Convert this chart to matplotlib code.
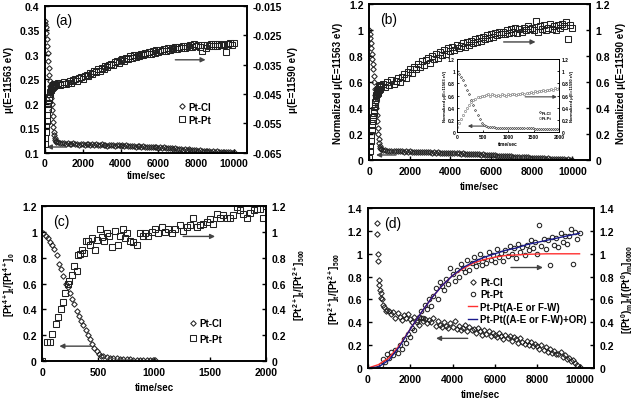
import numpy as np
import matplotlib.pyplot as plt
from matplotlib.ticker import FuncFormatter

plt.rcParams['font.family'] = ['Liberation Sans', 'DejaVu Sans']
plt.rcParams['font.weight'] = 'bold'
plt.rcParams['axes.labelweight'] = 'bold'
plt.rcParams['mathtext.fontset'] = 'custom'
plt.rcParams['mathtext.rm'] = 'Liberation Sans:bold'
plt.rcParams['mathtext.it'] = 'Liberation Sans:bold'
plt.rcParams['mathtext.bf'] = 'Liberation Sans:bold'
plt.rcParams['mathtext.default'] = 'rm'

# ---- (a) raw mu, Pt-Cl on left, Pt-Pt on right ----
t_early = np.arange(0, 600, 25)
t_late = np.arange(600, 10001, 100)

cl_a_early = [0.370, 0.364, 0.356, 0.345, 0.332, 0.318, 0.303, 0.288, 0.273, 0.259,
              0.247, 0.236, 0.224, 0.212, 0.200, 0.188, 0.176, 0.164, 0.152, 0.143,
              0.136, 0.131, 0.127, 0.125]
cl_a_late = [0.123, 0.122, 0.121, 0.120, 0.121, 0.119, 0.120, 0.118, 0.119, 0.120,
             0.118, 0.119, 0.117, 0.119, 0.118, 0.117, 0.119, 0.118, 0.116, 0.118,
             0.117, 0.118, 0.116, 0.117, 0.118, 0.116, 0.117, 0.115, 0.117, 0.116,
             0.117, 0.115, 0.116, 0.117, 0.115, 0.116, 0.114, 0.116, 0.115, 0.114,
             0.115, 0.114, 0.113, 0.115, 0.114, 0.113, 0.114, 0.112, 0.113, 0.112,
             0.113, 0.111, 0.112, 0.111, 0.110, 0.112, 0.110, 0.111, 0.109, 0.110,
             0.109, 0.110, 0.108, 0.109, 0.108, 0.107, 0.108, 0.106, 0.107, 0.106,
             0.107, 0.105, 0.106, 0.105, 0.106, 0.104, 0.105, 0.104, 0.103, 0.104,
             0.103, 0.104, 0.102, 0.103, 0.102, 0.103, 0.101, 0.102, 0.102, 0.101,
             0.102, 0.101, 0.102, 0.100, 0.101]
pt_a_early = [-0.0620, -0.0600, -0.0580, -0.0560, -0.0540, -0.0520, -0.0500, -0.0485,
              -0.0470, -0.0460, -0.0450, -0.0442, -0.0436, -0.0431, -0.0428, -0.0425,
              -0.0420, -0.0425, -0.0418, -0.0422, -0.0415, -0.0420, -0.0414, -0.0418]
pt_a_late = [-0.0418, -0.0413, -0.0420, -0.0415, -0.0410, -0.0417, -0.0412, -0.0405, -0.0411, -0.0403,
             -0.0400, -0.0406, -0.0396, -0.0392, -0.0398, -0.0388, -0.0384, -0.0390, -0.0378, -0.0382,
             -0.0372, -0.0376, -0.0366, -0.0370, -0.0360, -0.0364, -0.0355, -0.0358, -0.0350, -0.0346,
             -0.0352, -0.0342, -0.0338, -0.0345, -0.0334, -0.0330, -0.0337, -0.0327, -0.0332, -0.0322,
             -0.0328, -0.0318, -0.0324, -0.0316, -0.0321, -0.0312, -0.0318, -0.0309, -0.0315, -0.0307,
             -0.0312, -0.0304, -0.0310, -0.0301, -0.0307, -0.0299, -0.0305, -0.0297, -0.0302, -0.0294,
             -0.0300, -0.0292, -0.0298, -0.0290, -0.0296, -0.0289, -0.0294, -0.0287, -0.0292, -0.0285,
             -0.0291, -0.0284, -0.0289, -0.0280, -0.0287, -0.0283, -0.0290, -0.0305, -0.0284, -0.0292,
             -0.0282, -0.0288, -0.0281, -0.0286, -0.0280, -0.0285, -0.0279, -0.0284, -0.0278, -0.0283,
             -0.0308, -0.0280, -0.0275, -0.0282, -0.0277]

# ---- (b) normalized ----
cl_b_early = [1.00, 0.97, 0.94, 0.90, 0.86, 0.82, 0.78, 0.74, 0.70, 0.65,
              0.60, 0.55, 0.50, 0.45, 0.40, 0.35, 0.30, 0.25, 0.20, 0.16,
              0.13, 0.11, 0.095, 0.088]
cl_b_late = [0.084, 0.080, 0.077, 0.074, 0.073, 0.070, 0.072, 0.068, 0.070, 0.067,
             0.069, 0.066, 0.068, 0.065, 0.067, 0.064, 0.066, 0.063, 0.065, 0.062,
             0.064, 0.061, 0.063, 0.060, 0.062, 0.059, 0.061, 0.058, 0.060, 0.057,
             0.059, 0.056, 0.058, 0.055, 0.056, 0.053, 0.055, 0.052, 0.053, 0.050,
             0.052, 0.049, 0.050, 0.047, 0.049, 0.046, 0.047, 0.044, 0.045, 0.042,
             0.044, 0.041, 0.042, 0.039, 0.040, 0.037, 0.038, 0.035, 0.036, 0.033,
             0.034, 0.031, 0.032, 0.029, 0.030, 0.027, 0.028, 0.025, 0.026, 0.023,
             0.024, 0.021, 0.022, 0.019, 0.020, 0.017, 0.018, 0.015, 0.016, 0.013,
             0.015, 0.012, 0.013, 0.010, 0.012, 0.009, 0.010, 0.007, 0.009, 0.006,
             0.007, 0.005, 0.006, 0.003, 0.004]
pt_b_early = [0.02, 0.07, 0.11, 0.15, 0.19, 0.23, 0.27, 0.30, 0.33, 0.36,
              0.39, 0.42, 0.45, 0.48, 0.50, 0.51, 0.53, 0.52, 0.55, 0.54,
              0.57, 0.55, 0.58, 0.56]
pt_b_late = [0.57, 0.59, 0.56, 0.60, 0.58, 0.62, 0.59, 0.61, 0.63, 0.60,
             0.64, 0.66, 0.63, 0.68, 0.70, 0.67, 0.72, 0.70, 0.74, 0.72,
             0.76, 0.73, 0.77, 0.79, 0.75, 0.80, 0.78, 0.82, 0.79, 0.83,
             0.81, 0.85, 0.82, 0.86, 0.84, 0.87, 0.85, 0.89, 0.86, 0.88,
             0.90, 0.87, 0.91, 0.89, 0.92, 0.90, 0.93, 0.91, 0.94, 0.92,
             0.95, 0.93, 0.96, 0.94, 0.97, 0.95, 0.98, 0.96, 0.99, 0.97,
             0.99, 0.97, 1.00, 0.98, 1.01, 0.99, 1.02, 0.98, 1.01, 0.99,
             1.02, 1.00, 1.03, 1.01, 1.02, 1.00, 1.07, 0.99, 1.03, 1.01,
             1.04, 1.00, 1.02, 1.05, 1.01, 1.03, 1.00, 1.04, 1.02, 1.05,
             1.03, 1.06, 0.93, 1.04, 1.02]

# inset of (b), first 2000 s
t_in = np.arange(0, 2001, 40)
cl_in = [1.00, 0.96, 0.91, 0.85, 0.78, 0.70, 0.62, 0.53, 0.44, 0.36,
         0.28, 0.21, 0.15, 0.12, 0.10, 0.09, 0.085, 0.080, 0.078, 0.076,
         0.075, 0.074, 0.072, 0.071, 0.070, 0.069, 0.068, 0.068, 0.067, 0.066,
         0.066, 0.065, 0.064, 0.064, 0.063, 0.062, 0.062, 0.061, 0.060, 0.060,
         0.059, 0.058, 0.058, 0.057, 0.056, 0.056, 0.055, 0.054, 0.054, 0.053,
         0.052]
pt_in = [0.08, 0.15, 0.22, 0.29, 0.35, 0.40, 0.45, 0.49, 0.52, 0.55,
         0.57, 0.58, 0.60, 0.59, 0.61, 0.62, 0.60, 0.63, 0.61, 0.59,
         0.61, 0.60, 0.62, 0.61, 0.60, 0.62, 0.61, 0.63, 0.62, 0.61,
         0.63, 0.62, 0.64, 0.63, 0.65, 0.64, 0.66, 0.65, 0.67, 0.66,
         0.68, 0.67, 0.69, 0.68, 0.70, 0.69, 0.71, 0.70, 0.72, 0.71,
         0.73]

# ---- (c) concentrations, first 2000 s ----
t_c_cl = [0, 9, 30, 48, 69, 90, 107, 128, 149, 167,
          188, 209, 227, 248, 269, 287, 307, 328, 346, 367,
          388, 406, 427, 448, 466, 487, 507, 525, 546, 576,
          606, 636, 666, 696, 725, 755, 785, 815, 845, 875,
          905, 934, 964, 994, 1012]
cl_c = [0.0, 0.99, 0.97, 0.95, 0.92, 0.90, 0.87, 0.82, 0.75, 0.71,
        0.66, 0.60, 0.57, 0.53, 0.48, 0.44, 0.39, 0.35, 0.31, 0.28,
        0.24, 0.20, 0.17, 0.13, 0.10, 0.075, 0.057, 0.04, 0.036, 0.03,
        0.026, 0.026, 0.023, 0.02, 0.018, 0.015, 0.013, 0.01, 0.012, 0.01,
        0.009, 0.008, 0.008, 0.007, 0.006]
t_c_pt = [0, 39, 69, 84, 122, 143, 167, 188, 203, 227,
          239, 263, 284, 307, 322, 337, 358, 376, 391, 412,
          427, 448, 472, 493, 516, 537, 555, 576, 597, 621,
          651, 675, 696, 719, 740, 761, 785, 815, 845, 875,
          899, 922, 949, 979, 1009, 1039, 1069, 1099, 1128, 1158,
          1188, 1233, 1263, 1293, 1322, 1352, 1382, 1412, 1442, 1472,
          1501, 1531, 1561, 1591, 1621, 1651, 1681, 1710, 1746, 1770,
          1800, 1830, 1860, 1890, 1919, 1949, 1979, 2000]
pt_c = [0.0, 0.147, 0.147, 0.21, 0.29, 0.34, 0.405, 0.46, 0.53, 0.60,
        0.62, 0.67, 0.74, 0.70, 0.82, 0.83, 0.86, 0.84, 0.93, 0.93,
        0.90, 0.95, 0.86, 0.94, 1.02, 0.96, 0.93, 0.99, 0.97, 0.88,
        1.01, 0.90, 0.97, 1.02, 0.95, 0.99, 0.93, 0.92, 0.90, 0.99,
        0.97, 0.99, 0.97, 1.00, 1.02, 0.99, 1.04, 1.00, 1.02, 0.99,
        1.02, 1.05, 1.01, 1.04, 1.05, 1.11, 1.04, 1.05, 1.06, 1.08,
        1.10, 1.06, 1.14, 1.11, 1.13, 1.11, 1.11, 1.13, 1.19, 1.17,
        1.14, 1.11, 1.15, 1.17, 1.18, 1.18, 1.11, 1.20]

# ---- (d) Pt2+ decay and Pt0 growth with fits ----
t_d_cl_early = [450, 455, 470, 480, 520, 540, 580, 600, 640, 680, 720, 780, 840, 900]
cl_d_early = [1.27, 1.17, 1.00, 0.94, 0.77, 0.73, 0.68, 0.66, 0.61, 0.60, 0.55, 0.53, 0.50, 0.51]
t_d_cl = np.arange(1000, 10001, 100)
cl_d = [0.50, 0.47, 0.49, 0.44, 0.48, 0.45, 0.42, 0.46, 0.44, 0.47,
        0.43, 0.40, 0.45, 0.42, 0.38, 0.44, 0.41, 0.43, 0.39, 0.42,
        0.40, 0.44, 0.37, 0.41, 0.38, 0.36, 0.40, 0.37, 0.35, 0.39,
        0.36, 0.41, 0.34, 0.37, 0.33, 0.35, 0.38, 0.32, 0.36, 0.33,
        0.34, 0.31, 0.35, 0.32, 0.29, 0.33, 0.30, 0.32, 0.28, 0.31,
        0.29, 0.27, 0.31, 0.28, 0.25, 0.29, 0.26, 0.28, 0.24, 0.27,
        0.25, 0.22, 0.26, 0.23, 0.21, 0.24, 0.20, 0.23, 0.19, 0.21,
        0.19, 0.17, 0.20, 0.16, 0.18, 0.14, 0.17, 0.13, 0.15, 0.12,
        0.12, 0.14, 0.10, 0.11, 0.08, 0.09, 0.06, 0.07, 0.04, 0.03,
        0.01]
t_d_pt = np.arange(500, 10001, 100)
pt_d = [0.00, 0.03, 0.08, 0.05, 0.12, 0.09, 0.14, 0.11, 0.16, 0.13,
        0.20, 0.17, 0.25, 0.22, 0.30, 0.27, 0.35, 0.33, 0.40, 0.45,
        0.50, 0.44, 0.55, 0.52, 0.60, 0.54, 0.63, 0.70, 0.60, 0.75,
        0.72, 0.68, 0.78, 0.74, 0.88, 0.82, 0.76, 0.86, 0.80, 0.91,
        0.88, 0.84, 0.95, 0.86, 0.92, 0.97, 0.89, 0.94, 1.00, 0.90,
        0.96, 0.92, 1.02, 0.95, 0.99, 0.93, 1.04, 0.97, 1.01, 0.94,
        1.03, 0.98, 1.07, 1.00, 1.05, 0.96, 1.09, 1.02, 1.06, 0.99,
        1.08, 1.03, 1.12, 1.05, 1.10, 1.00, 1.25, 1.07, 1.13, 1.04,
        1.12, 0.90, 1.15, 1.08, 1.14, 1.06, 1.18, 1.10, 1.16, 1.09,
        1.16, 1.22, 0.91, 1.19, 1.13, 1.18]
t_fit = np.arange(0, 10001, 500)
fit_ae = [0.0, 0.03, 0.09, 0.20, 0.34, 0.48, 0.61, 0.72, 0.81, 0.87, 0.92,
          0.95, 0.97, 0.985, 0.99, 0.995, 0.998, 1.0, 1.0, 1.0, 1.0]
fit_ae_or = [0.0, 0.01, 0.07, 0.19, 0.34, 0.48, 0.61, 0.72, 0.81, 0.88, 0.93,
             0.97, 1.00, 1.03, 1.05, 1.08, 1.10, 1.12, 1.14, 1.16, 1.18]

fmt = FuncFormatter(lambda v, p: '%g' % v)
mk_col = '#222222'
mk = dict(mfc='none', mec=mk_col, mew=0.75, ls='none')


def setup(ax, ax2, xmax, xticks, ylim, yticks, ylim2, yticks2, fs=7.5):
    ax.set_xlim(0, xmax)
    ax.set_xticks(xticks)
    ax.set_ylim(*ylim)
    ax.set_yticks(yticks)
    ax2.set_ylim(*ylim2)
    ax2.set_yticks(yticks2)
    for a in (ax, ax2):
        a.tick_params(direction='in', length=3, width=1, labelsize=fs, pad=4)
        a.yaxis.set_major_formatter(fmt)
        for s in a.spines.values():
            s.set_linewidth(1.2)
    ax.xaxis.set_major_formatter(fmt)


def arrow(ax, tail, head, lw=1.0, ms=7):
    ax.annotate('', xy=head, xytext=tail,
                arrowprops=dict(arrowstyle='-|>', color='#444444', lw=lw,
                                mutation_scale=ms, shrinkA=0, shrinkB=0))


fig = plt.figure(figsize=(6.42, 4.06), dpi=100)
xt10 = np.arange(0, 10001, 2000)
xt2 = np.arange(0, 2001, 500)

# (a)
ax = fig.add_axes([0.070, 0.621, 0.315, 0.362])
ax2 = ax.twinx()
h1, = ax.plot(np.concatenate([t_early, t_late]), cl_a_early + cl_a_late, 'D', ms=2.8,
              label='Pt-Cl', **mk)
h2, = ax2.plot(np.concatenate([t_early, t_late]), pt_a_early + pt_a_late, 's', ms=3.8,
               label='Pt-Pt', **mk)
setup(ax, ax2, 10700, xt10, (0.1, 0.4), np.arange(0.1, 0.401, 0.05),
      (-0.065, -0.015), np.arange(-0.065, -0.0149, 0.01))
ax.set_ylabel('μ(E=11563 eV)', fontsize=7)
ax2.set_ylabel('μ(E=11590 eV)', fontsize=7)
ax.set_xlabel('time/sec', fontsize=7, labelpad=1)
ax.text(0.05, 0.88, '(a)', transform=ax.transAxes, fontsize=10, fontweight='normal')
ax.legend(handles=[h1, h2], loc='upper left', bbox_to_anchor=(0.64, 0.38), frameon=False,
          fontsize=7, handlelength=0.6, handletextpad=0.3, labelspacing=0.3, borderpad=0)
arrow(ax, (6900, 0.29), (8500, 0.29))
arrow(ax, (1120, 0.112), (100, 0.112))

# (b)
bx = fig.add_axes([0.575, 0.603, 0.344, 0.384])
bx2 = bx.twinx()
bx.plot(np.concatenate([t_early, t_late]), cl_b_early + cl_b_late, 'D', ms=2.8, **mk)
bx2.plot(np.concatenate([t_early, t_late]), pt_b_early + pt_b_late, 's', ms=3.8, **mk)
setup(bx, bx2, 10870, xt10, (0, 1.2), np.arange(0, 1.21, 0.2), (0, 1.2), np.arange(0, 1.21, 0.2))
bx.set_ylabel('Normalized μ(E=11563 eV)', fontsize=7)
bx2.set_ylabel('Normalized μ(E=11590 eV)', fontsize=7)
bx.set_xlabel('time/sec', fontsize=7)
bx.text(0.05, 0.88, '(b)', transform=bx.transAxes, fontsize=10, fontweight='normal')
arrow(bx, (6620, 0.91), (8190, 0.91))
arrow(bx, (1320, 0.04), (340, 0.04))

# inset of (b)
ix = fig.add_axes([0.712, 0.672, 0.159, 0.180])
ix2 = ix.twinx()
i1, = ix.plot(t_in, cl_in, 'D', ms=1.2, mfc='none', mec='#555555', mew=0.5, label='Pt-Cl')
i2, = ix2.plot(t_in, pt_in, 'o', ms=1.6, mfc='none', mec='#888888', mew=0.5, label='Pt-Pt')
setup(ix, ix2, 2000, xt2, (0, 1.2), np.arange(0, 1.21, 0.2), (0, 1.2), np.arange(0, 1.21, 0.2), fs=3.5)
for a in (ix, ix2):
    a.tick_params(length=1.5, width=0.6, pad=1.5)
    for s in a.spines.values():
        s.set_linewidth(0.6)
ix.set_ylabel('Normalized μ(E=11563 eV)', fontsize=3, labelpad=1)
ix2.set_ylabel('Normalized μ(E=11590 eV)', fontsize=3, labelpad=1)
ix.set_xlabel('time/sec', fontsize=3.5, labelpad=1)
ix.legend(handles=[i1, i2], loc='upper left', bbox_to_anchor=(0.78, 0.32), frameon=False,
          fontsize=3, handlelength=0.5, handletextpad=0.3, labelspacing=0.3, borderpad=0)
arrow(ix, (1333, 0.58), (1955, 0.58), lw=0.8, ms=5)
arrow(ix, (523, 0.1), (210, 0.1), lw=0.8, ms=5)

# (c)
cx = fig.add_axes([0.066, 0.108, 0.348, 0.382])
cx2 = cx.twinx()
c1, = cx.plot(t_c_cl, cl_c, 'D', ms=2.8, label='Pt-Cl', **mk)
c2, = cx2.plot(t_c_pt, pt_c, 's', ms=3.8, label='Pt-Pt', **mk)
setup(cx, cx2, 2000, xt2, (0, 1.2), np.arange(0, 1.21, 0.2), (0, 1.2), np.arange(0, 1.21, 0.2))
cx.set_ylabel(r'[Pt$^{4+}$]$_t$/[Pt$^{4+}$]$_0$', fontsize=7)
cx2.set_ylabel(r'[Pt$^{2+}$]$_t$/[Pt$^{2+}$]$_{500}$', fontsize=7)
cx.set_xlabel('time/sec', fontsize=7)
cx.text(0.05, 0.88, '(c)', transform=cx.transAxes, fontsize=10, fontweight='normal')
cx.legend(handles=[c1, c2], loc='upper left', bbox_to_anchor=(0.64, 0.31), frameon=False,
          fontsize=7, handlelength=0.6, handletextpad=0.3, labelspacing=0.6, borderpad=0)
arrow(cx, (1260, 0.965), (1546, 0.965))
arrow(cx, (433, 0.116), (152, 0.116))

# (d)
dx = fig.add_axes([0.573, 0.091, 0.352, 0.394])
dx2 = dx.twinx()
d1, = dx.plot(np.concatenate([t_d_cl_early, t_d_cl]), cl_d_early + cl_d, 'D', ms=2.8,
              label='Pt-Cl', **mk)
d2, = dx2.plot(t_d_pt, pt_d, 'o', ms=3.2, label='Pt-Pt', **mk)
d3, = dx2.plot(t_fit, fit_ae, '-', color='#ff3030', lw=1.0, label='Pt-Pt(A-E or F-W)')
d4, = dx2.plot(t_fit, fit_ae_or, '-', color='#1a1a8c', lw=1.0, label='Pt-Pt((A-E or F-W)+OR)')
setup(dx, dx2, 10675, xt10, (0, 1.4), np.arange(0, 1.41, 0.2), (0, 1.4), np.arange(0, 1.41, 0.2))
dx.set_ylabel(r'[Pt$^{2+}$]$_t$/[Pt$^{2+}$]$_{500}$', fontsize=7)
dx2.set_ylabel(r'[(Pt$^0$)$_m$]$_t$/[(Pt$^0$)$_m$]$_{6000}$', fontsize=7)
dx.set_xlabel('time/sec', fontsize=7)
dx.text(0.07, 0.88, '(d)', transform=dx.transAxes, fontsize=10, fontweight='normal')
dx.legend(handles=[d1, d2, d3, d4], loc='upper left', bbox_to_anchor=(0.42, 0.60), frameon=False,
          fontsize=7, handlelength=1.0, handletextpad=0.3, labelspacing=0.25, borderpad=0)
arrow(dx, (6760, 0.88), (8270, 0.88))
arrow(dx, (4717, 0.26), (3220, 0.26))

fig.savefig('out.png', dpi=100)
